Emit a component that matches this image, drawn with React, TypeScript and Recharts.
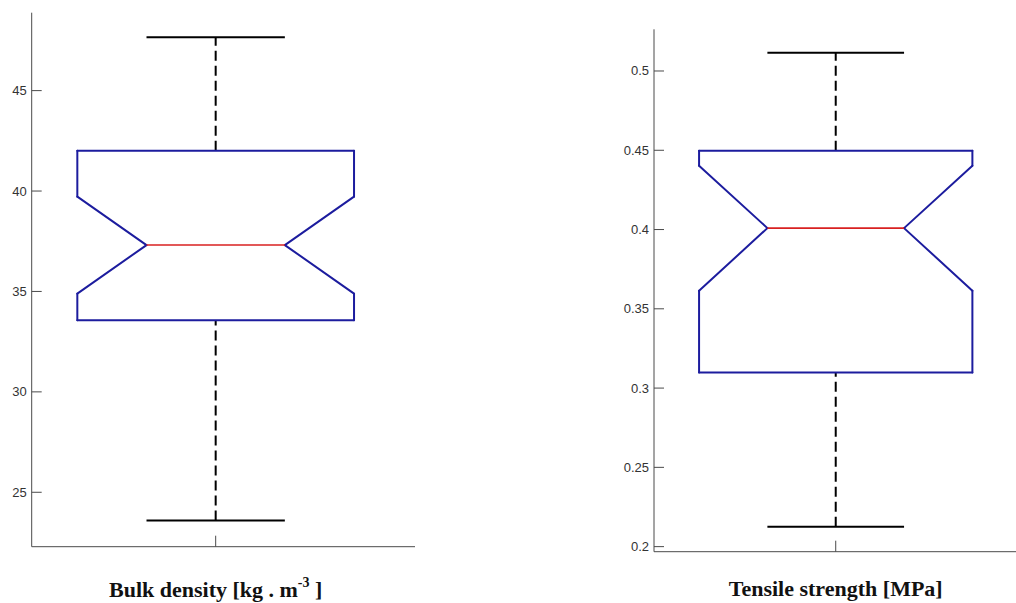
import { ComposedChart, ReferenceLine, XAxis, YAxis } from 'recharts';

// box statistics: lower whisker, Q1, lower notch, median, upper notch, Q3, upper whisker
const BULK_DENSITY = [23.59, 33.57, 34.89, 37.31, 39.72, 42.0, 47.66];
const TENSILE_STRENGTH = [0.2126, 0.3098, 0.3614, 0.4009, 0.4403, 0.4497, 0.5115];

const BULK_TICKS = [25, 30, 35, 40, 45];
const TENSILE_TICKS = [0.2, 0.25, 0.3, 0.35, 0.4, 0.45, 0.5];

const BULK_LIMITS = [22.29, 48.88];
const TENSILE_LIMITS = [0.1968, 0.5263];

const BLUE = '#1c1c9e';
const RED = '#d82020';
const AXIS = '#4a4a4a';
const HALF_BOX = 0.376;

type Pt = { x: number; y: number };

function boxParts(s: number[]) {
  const [lo, q1, nLo, med, nHi, q3, hi] = s;
  const w = HALF_BOX;
  const outline: Pt[] = [
    { x: 1 - w, y: q1 },
    { x: 1 - w, y: nLo },
    { x: 1 - w / 2, y: med },
    { x: 1 - w, y: nHi },
    { x: 1 - w, y: q3 },
    { x: 1 + w, y: q3 },
    { x: 1 + w, y: nHi },
    { x: 1 + w / 2, y: med },
    { x: 1 + w, y: nLo },
    { x: 1 + w, y: q1 },
    { x: 1 - w, y: q1 },
  ];
  const edges = outline.slice(1).map((p, i) => [outline[i], p] as [Pt, Pt]);
  return {
    edges,
    whiskers: [
      [{ x: 1, y: q3 }, { x: 1, y: hi }],
      [{ x: 1, y: lo }, { x: 1, y: q1 }],
    ] as [Pt, Pt][],
    caps: [
      [{ x: 1 - w / 2, y: hi }, { x: 1 + w / 2, y: hi }],
      [{ x: 1 - w / 2, y: lo }, { x: 1 + w / 2, y: lo }],
    ] as [Pt, Pt][],
    median: [{ x: 1 - w / 2, y: med }, { x: 1 + w / 2, y: med }] as [Pt, Pt],
  };
}

const YTick = (props: any) => {
  const { x, y, payload } = props;
  return (
    <g>
      <line x1={x} x2={x + 10} y1={y} y2={y} stroke={AXIS} />
      <text
        x={x - 5}
        y={y}
        dy={4.5}
        textAnchor="end"
        fontSize={13}
        fill="#333"
        fontFamily="'Liberation Sans', Arial, sans-serif"
      >
        {payload.value}
      </text>
    </g>
  );
};

const XTick = (props: any) => {
  const { x, y } = props;
  return <line x1={x} x2={x} y1={y} y2={y - 11} stroke={AXIS} />;
};

function BoxPanel({
  stats,
  ticks,
  limits,
  xMax,
  width,
  left,
  top,
  plotBottom,
  yAxisWidth,
  right,
  labelGap,
  title,
}: {
  stats: number[];
  ticks: number[];
  limits: number[];
  xMax: number;
  width: number;
  left: number;
  top: number;
  plotBottom: number;
  yAxisWidth: number;
  right: number;
  labelGap: number;
  title: React.ReactNode;
}) {
  const parts = boxParts(stats);
  const height = 603;
  const xMin = 0.5;
  const frac = (1 - xMin) / (xMax - xMin);
  return (
    <div style={{ position: 'absolute', left, top: 0, width, height }}>
      <ComposedChart
        width={width}
        height={height}
        data={[]}
        margin={{ top, right, bottom: 0, left: 0 }}
      >
        <XAxis
          type="number"
          dataKey="x"
          domain={[xMin, xMax]}
          ticks={[1]}
          allowDataOverflow
          height={height - plotBottom}
          stroke={AXIS}
          tickSize={0}
          tickMargin={0}
          tickLine={false}
          tick={<XTick />}
          label={{
            content: (p: any) => {
              const vb = p.viewBox;
              return (
                <text
                  x={vb.x + vb.width * frac}
                  y={vb.y + labelGap}
                  textAnchor="middle"
                  fontSize={22}
                  fontWeight="bold"
                  fill="#111"
                  fontFamily="'Liberation Serif', 'Times New Roman', serif"
                >
                  {title}
                </text>
              );
            },
          }}
        />
        <YAxis
          type="number"
          domain={limits}
          ticks={ticks}
          interval={0}
          allowDataOverflow
          width={yAxisWidth}
          stroke={AXIS}
          tickSize={0}
          tickMargin={0}
          tickLine={false}
          tick={<YTick />}
        />
        {parts.whiskers.map((seg, i) => (
          <ReferenceLine
            key={`w${i}`}
            segment={seg}
            stroke="#000"
            strokeWidth={2}
            strokeDasharray="10 5"
            ifOverflow="visible"
          />
        ))}
        {parts.caps.map((seg, i) => (
          <ReferenceLine
            key={`c${i}`}
            segment={seg}
            stroke="#000"
            strokeWidth={2}
            ifOverflow="visible"
          />
        ))}
        {parts.edges.map((seg, i) => (
          <ReferenceLine
            key={`b${i}`}
            segment={seg}
            stroke={BLUE}
            strokeWidth={2}
            strokeLinecap="round"
            ifOverflow="visible"
          />
        ))}
        <ReferenceLine
          segment={parts.median}
          stroke={RED}
          strokeWidth={1.6}
          ifOverflow="visible"
        />
      </ComposedChart>
    </div>
  );
}

export default function App() {
  return (
    <div
      style={{
        position: 'absolute',
        left: 0,
        top: 0,
        width: 1016,
        height: 603,
        overflow: 'hidden',
        background: '#fff',
      }}
    >
      <BoxPanel
        stats={BULK_DENSITY}
        ticks={BULK_TICKS}
        limits={BULK_LIMITS}
        xMax={1.5417}
        width={430}
        left={0}
        top={12.7}
        plotBottom={546.7}
        yAxisWidth={31.7}
        right={15}
        labelGap={50}
        title={
          <>
            Bulk density [kg . m
            <tspan dy={-10} fontSize={14}>
              -3
            </tspan>
            <tspan dy={10}> ]</tspan>
          </>
        }
      />
      <BoxPanel
        stats={TENSILE_STRENGTH}
        ticks={TENSILE_TICKS}
        limits={TENSILE_LIMITS}
        xMax={1.496}
        width={416}
        left={600}
        top={29.3}
        plotBottom={551.7}
        yAxisWidth={54}
        right={0}
        labelGap={44.3}
        title="Tensile strength [MPa]"
      />
    </div>
  );
}
